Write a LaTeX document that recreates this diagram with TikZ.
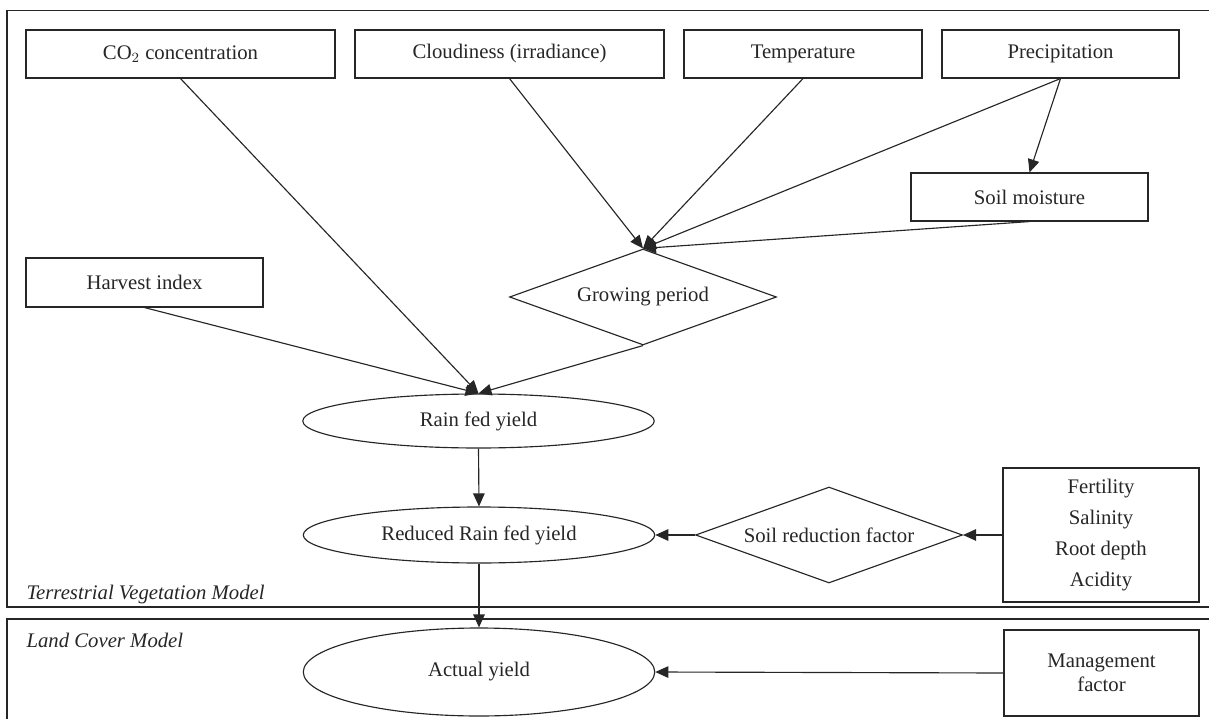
\documentclass[tikz,border=0pt]{standalone}
\usepackage{fontspec}
\setmainfont{Liberation Serif}
\usetikzlibrary{shapes.geometric,arrows.meta}

\tikzset{
  box/.style={draw, rectangle, inner sep=0pt, minimum height=0.96cm, align=center},
  oval/.style={draw, ellipse, inner sep=0pt, minimum width=7.03cm, minimum height=1.1cm},
  choice/.style={draw, diamond, aspect=2.78, inner sep=0pt,
    minimum width=5.34cm, minimum height=1.92cm},
  link/.style={-{Triangle[length=2.6mm,width=2.3mm]}},
  model/.style={anchor=base west, inner sep=0pt, font=\fontsize{11.8}{14}\selectfont\itshape}
}

\begin{document}
\begin{tikzpicture}[x=0.02cm, y=-0.02cm, color=black!85, line width=0.65pt,
    font=\fontsize{11.8}{14}\selectfont]
  \useasboundingbox (0,0) rectangle (1209,719);

  % Frames
  \begin{scope}
    \clip (0,0) rectangle (1209,719);
    \draw (7,10.7) rectangle (1230,607);
    \draw (7,619) rectangle (1230,745);
  \end{scope}
  \node[model] (tvm) at (26,599) {Terrestrial Vegetation Model};
  \node[model] (lcm) at (26,647) {Land Cover Model};

  % Inputs
  \node[box, minimum width=6.18cm] (co2) at (180.5,54) {CO$_2$ concentration};
  \node[box, minimum width=6.18cm] (cloud) at (509.5,54) {Cloudiness (irradiance)};
  \node[box, minimum width=4.76cm] (temp) at (803,54) {Temperature};
  \node[box, minimum width=4.74cm] (precip) at (1060.5,54) {Precipitation};
  \node[box, minimum width=4.74cm] (soil) at (1029.5,197) {Soil moisture};
  \node[box, minimum width=4.74cm, minimum height=0.98cm] (harvest) at (144.5,282.5) {Harvest index};
  \node[box, minimum width=3.92cm, minimum height=2.68cm] (fert) at (1101,535)
    {Fertility\\[3.8pt] Salinity\\[3.8pt] Root depth\\[3.8pt] Acidity};
  \node[box, minimum width=3.9cm, minimum height=1.72cm] (mgmt) at (1101.5,673)
    {Management\\ factor};

  % Model steps
  \node[choice] (grow) at (643,297) {Growing period};
  \node[oval, minimum height=1.08cm] (rain) at (478.5,421) {Rain fed yield};
  \node[oval, minimum height=1.12cm] (reduced) at (479,535) {Reduced Rain fed yield};
  \node[choice] (soilred) at (829,535) {Soil reduction factor};
  \node[oval, minimum height=1.76cm] (actual) at (479,672) {Actual yield};

  % Links
  \draw[link] (precip.south) -- (soil.north);
  \draw[link] (cloud.south) -- (grow.north);
  \draw[link] (temp.south) -- (grow.north);
  \draw[link] (precip.south) -- (grow.north);
  \draw[link] (soil.south) -- (grow.north);
  \draw[link] (co2.south) -- (rain.north);
  \draw[link] (harvest.south) -- (rain.north);
  \draw[link] (grow.south) -- (rain.north);
  \draw[link] (rain.south) -- (reduced.north);
  \draw[link] (fert.west) -- (soilred.east);
  \draw[link] (soilred.west) -- (reduced.east);
  \draw[link] (reduced.south) -- (actual.north);
  \draw[link] (mgmt.west) -- (actual.east);
\end{tikzpicture}
\end{document}
